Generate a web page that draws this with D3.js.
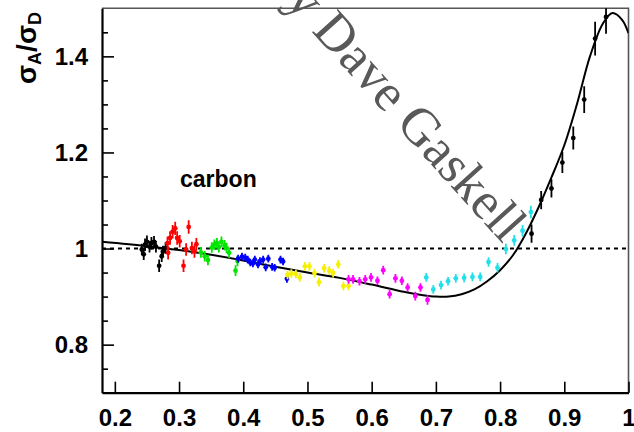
<!DOCTYPE html>
<html>
<head>
<meta charset="utf-8">
<script src="https://cdn.jsdelivr.net/npm/d3@7"></script>
<style>
  html, body { margin: 0; padding: 0; background: #fff; }
  svg { display: block; }
  text { font-family: "Liberation Sans", Arial, Helvetica, sans-serif; }
</style>
</head>
<body>
<svg id="chart" width="634" height="432"></svg>
<script>
// EMC ratio sigma_A / sigma_D for carbon versus Bjorken x.
// Each data set: [x, ratio, error]
const setBlackLow = [
  [0.242, 0.998, 0.012], [0.245, 0.988, 0.012], [0.250, 1.014, 0.013],
  [0.254, 1.004, 0.012], [0.257, 1.011, 0.013], [0.261, 1.014, 0.012],
  [0.264, 1.004, 0.012], [0.269, 0.964, 0.013], [0.273, 0.984, 0.012],
  [0.275, 0.994, 0.012], [0.279, 1.001, 0.012], [0.247, 1.008, 0.013]
];
const setRed = [
  [0.282, 1.011, 0.014], [0.283, 0.991, 0.014], [0.286, 1.022, 0.014],
  [0.290, 1.035, 0.014], [0.294, 1.042, 0.014], [0.297, 1.022, 0.014],
  [0.301, 1.015, 0.013], [0.307, 0.964, 0.013], [0.311, 0.998, 0.013],
  [0.315, 1.045, 0.014], [0.320, 1.001, 0.013], [0.324, 0.994, 0.013],
  [0.327, 1.009, 0.013]
];
const setGreen = [
  [0.334, 0.992, 0.011], [0.340, 0.984, 0.011], [0.345, 0.976, 0.011],
  [0.351, 1.002, 0.011], [0.355, 1.008, 0.011], [0.359, 1.011, 0.011],
  [0.362, 1.003, 0.011], [0.366, 1.014, 0.011], [0.371, 1.007, 0.011],
  [0.374, 1.001, 0.011], [0.378, 0.991, 0.011], [0.388, 0.954, 0.011],
  [0.391, 0.974, 0.011]
];
const setBlue = [
  [0.392, 0.979, 0.008], [0.398, 0.983, 0.008], [0.403, 0.981, 0.008],
  [0.407, 0.977, 0.008], [0.411, 0.971, 0.008], [0.415, 0.969, 0.008],
  [0.418, 0.977, 0.008], [0.423, 0.967, 0.008], [0.426, 0.974, 0.008],
  [0.431, 0.977, 0.008], [0.435, 0.961, 0.008], [0.439, 0.979, 0.008],
  [0.445, 0.962, 0.008], [0.449, 0.960, 0.008], [0.458, 0.977, 0.008],
  [0.462, 0.973, 0.008], [0.468, 0.937, 0.008]
];
const setYellow = [
  [0.469, 0.945, 0.009], [0.475, 0.948, 0.009], [0.482, 0.947, 0.009],
  [0.488, 0.940, 0.009], [0.496, 0.963, 0.009], [0.503, 0.963, 0.009],
  [0.511, 0.949, 0.009], [0.518, 0.930, 0.009], [0.526, 0.959, 0.009],
  [0.534, 0.954, 0.009], [0.540, 0.949, 0.009], [0.548, 0.967, 0.009],
  [0.556, 0.922, 0.009], [0.564, 0.922, 0.009]
];
const setMagenta = [
  [0.564, 0.936, 0.009], [0.571, 0.936, 0.009], [0.581, 0.932, 0.009],
  [0.590, 0.936, 0.009], [0.599, 0.940, 0.009], [0.609, 0.933, 0.009],
  [0.618, 0.955, 0.009], [0.628, 0.905, 0.009], [0.637, 0.938, 0.009],
  [0.647, 0.933, 0.009], [0.656, 0.919, 0.009], [0.668, 0.901, 0.009],
  [0.676, 0.919, 0.009], [0.687, 0.893, 0.010]
];
const setCyan = [
  [0.685, 0.940, 0.009], [0.696, 0.915, 0.009], [0.708, 0.924, 0.009],
  [0.719, 0.932, 0.009], [0.731, 0.938, 0.009], [0.744, 0.939, 0.009],
  [0.757, 0.941, 0.009], [0.769, 0.941, 0.009], [0.782, 0.972, 0.010],
  [0.796, 0.960, 0.010], [0.809, 0.999, 0.011], [0.822, 1.017, 0.011],
  [0.835, 1.037, 0.012], [0.848, 1.076, 0.013]
];
const setBlackHigh = [
  [0.849, 1.031, 0.019], [0.864, 1.101, 0.019], [0.880, 1.125, 0.019],
  [0.897, 1.179, 0.022], [0.914, 1.230, 0.024], [0.931, 1.310, 0.028],
  [0.948, 1.437, 0.035], [0.965, 1.482, 0.035]
];

// Model curve
const curveX = [0.18, 0.25, 0.30, 0.35, 0.40, 0.45, 0.50, 0.55, 0.60, 0.65, 0.68, 0.70,
                0.72, 0.74, 0.76, 0.78, 0.80, 0.82, 0.84, 0.86, 0.88, 0.90, 0.92, 0.94,
                0.96, 0.975, 0.99, 1.0];
const curveY = [1.014, 1.005, 0.997, 0.987, 0.975, 0.962, 0.950, 0.939, 0.925, 0.910, 0.903, 0.900,
                0.900, 0.905, 0.915, 0.932, 0.955, 0.986, 1.031, 1.086, 1.148, 1.215, 1.302, 1.400,
                1.468, 1.490, 1.476, 1.448];

const xTicks = [0.2, 0.3, 0.4, 0.5, 0.6, 0.7, 0.8, 0.9, 1.0];
const yTicks = [0.8, 1.0, 1.2, 1.4];
const yMinorTicks = [0.75, 0.85, 0.9, 0.95, 1.05, 1.1, 1.15, 1.25, 1.3, 1.35, 1.45];

const sets = [
  { pts: setBlackLow,  color: "#000000" },
  { pts: setRed,       color: "#ff0000" },
  { pts: setGreen,     color: "#00e600" },
  { pts: setBlue,      color: "#0000ff" },
  { pts: setYellow,    color: "#f5f000" },
  { pts: setMagenta,   color: "#ff00ff" },
  { pts: setCyan,      color: "#22e0e8" },
  { pts: setBlackHigh, color: "#000000" }
];

const svg = d3.select("#chart");
const L = 102, R = 628.5, T = 8.3, B = 392.7;
const x = d3.scaleLinear().domain([0.18, 1.0]).range([L, R]);
const y = d3.scaleLinear().domain([0.7, 1.5]).range([B, T]);

const fmt = d => (Math.abs(d - 1) < 1e-9 ? "1" : d3.format(".1f")(d));

// watermark
svg.append("text")
  .attr("transform", "translate(266.7,-18.2) rotate(48)")
  .style("font-family", "'Liberation Serif', 'Times New Roman', serif")
  .style("font-size", "53px")
  .attr("fill", "#595959")
  .text("by Dave Gaskell");

// frame (top and right)
svg.append("path")
  .attr("d", `M${L},${T}H${R}V${B}`)
  .attr("fill", "none")
  .attr("stroke", "#555")
  .attr("stroke-width", 1.6);

// clip region for curve and points
svg.append("clipPath").attr("id", "plotclip")
  .append("rect").attr("x", L).attr("y", T).attr("width", R - L).attr("height", B - T);

// reference line at unity
svg.append("line")
  .attr("x1", L).attr("x2", R)
  .attr("y1", y(1)).attr("y2", y(1))
  .attr("stroke", "#000")
  .attr("stroke-width", 2)
  .attr("stroke-dasharray", "4,4");

// model curve
const curveData = curveX.map((v, i) => [v, curveY[i]]);
svg.append("path")
  .datum(curveData)
  .attr("clip-path", "url(#plotclip)")
  .attr("fill", "none")
  .attr("stroke", "#000")
  .attr("stroke-width", 2)
  .attr("d", d3.line().x(d => x(d[0])).y(d => y(d[1])).curve(d3.curveCatmullRom.alpha(0.5)));

// data points with error bars
sets.forEach(s => {
  const g = svg.append("g").attr("clip-path", "url(#plotclip)");
  const pt = g.selectAll("g").data(s.pts).enter().append("g");
  pt.append("line")
    .attr("x1", d => x(d[0])).attr("x2", d => x(d[0]))
    .attr("y1", d => y(d[1] - d[2])).attr("y2", d => y(d[1] + d[2]))
    .attr("stroke", s.color)
    .attr("stroke-width", 1.8);
  pt.append("circle")
    .attr("cx", d => x(d[0])).attr("cy", d => y(d[1]))
    .attr("r", 2.4)
    .attr("fill", s.color);
});

// axes
const xAxis = d3.axisBottom(x).tickValues(xTicks).tickFormat(fmt)
  .tickSizeInner(-11).tickSizeOuter(0).tickPadding(16);
const gx = svg.append("g").attr("transform", `translate(0,${B})`).call(xAxis);

const yAxis = d3.axisLeft(y).tickValues(yTicks).tickFormat(fmt)
  .tickSizeInner(-12).tickSizeOuter(0).tickPadding(14);
const gy = svg.append("g").attr("transform", `translate(${L},0)`).call(yAxis);

const yMinor = d3.axisLeft(y).tickValues(yMinorTicks).tickFormat("")
  .tickSizeInner(-6).tickSizeOuter(0);
const gym = svg.append("g").attr("transform", `translate(${L},0)`).call(yMinor);
gym.select(".domain").remove();

[gx, gy, gym].forEach(g => {
  g.select(".domain").attr("stroke", "#000").attr("stroke-width", 2.2);
  g.selectAll(".tick line").attr("stroke", "#000").attr("stroke-width", 1.6);
  g.selectAll(".tick text")
    .attr("fill", "#000")
    .style("font-size", "24px")
    .style("font-weight", "bold");
});

// y axis title
const yt = svg.append("text")
  .attr("transform", "translate(36,48) rotate(-90)")
  .attr("text-anchor", "middle")
  .style("font-weight", "bold")
  .attr("fill", "#000");
yt.append("tspan").style("font-size", "28px").text("σ");
yt.append("tspan").style("font-size", "18px").attr("dy", 5).text("A");
yt.append("tspan").style("font-size", "28px").attr("dy", -5).text("/");
yt.append("tspan").style("font-size", "28px").text("σ");
yt.append("tspan").style("font-size", "18px").attr("dy", 5).text("D");

// annotation
svg.append("text")
  .attr("x", 180).attr("y", 186.5)
  .style("font-size", "23px")
  .style("font-weight", "bold")
  .attr("fill", "#000")
  .text("carbon");
</script>
</body>
</html>
